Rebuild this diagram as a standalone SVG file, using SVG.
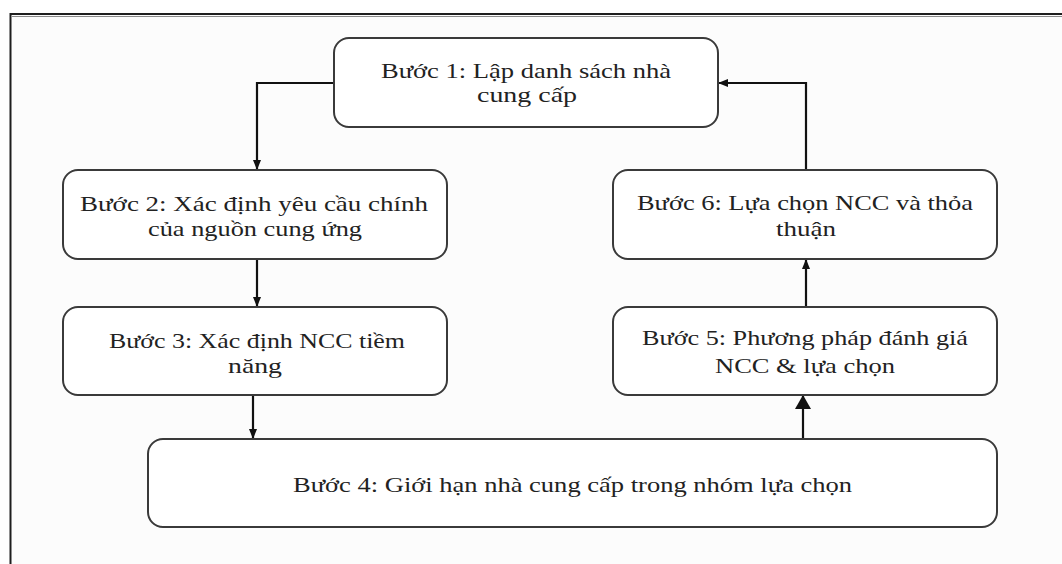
<svg xmlns="http://www.w3.org/2000/svg" width="1062" height="564" viewBox="0 0 1062 564">
  <style>
    .node rect { fill: #ffffff; stroke: #3a3a3a; stroke-width: 2; }
    .node text { font-family: 'Liberation Serif', 'DejaVu Serif', 'Times New Roman', serif; font-size: 22px; fill: #222222; text-anchor: middle; }
    .link { fill: none; stroke: #111111; stroke-width: 2.2; }
  </style>
  <defs>
    <marker id="arrow" viewBox="0 0 10 8" refX="10" refY="4" markerWidth="10" markerHeight="8" markerUnits="userSpaceOnUse" orient="auto">
      <path d="M0,0 L10,4 L0,8 z" fill="#111111"/>
    </marker>
    <marker id="arrowBig" viewBox="0 0 14 16" refX="14" refY="8" markerWidth="14" markerHeight="16" markerUnits="userSpaceOnUse" orient="auto">
      <path d="M0,0 L14,8 L0,16 z" fill="#111111"/>
    </marker>
  </defs>

  <!-- page background and frame -->
  <rect x="0" y="0" width="1062" height="564" fill="#ffffff"/>
  <rect x="11" y="15" width="1051" height="549" fill="#fcfcfc"/>
  <path d="M10.5,564 V14 H1062" fill="none" stroke="#1e1e1e" stroke-width="2"/>
  <line x1="12" y1="16.5" x2="1062" y2="16.5" stroke="#8a8a8a" stroke-width="1"/>

  <!-- connectors -->
  <g id="connectors">
    <path class="link" d="M334,83 H257 V170" marker-end="url(#arrow)"/>
    <path class="link" d="M257,259 V307" marker-end="url(#arrow)"/>
    <path class="link" d="M253,395 V439" marker-end="url(#arrow)"/>
    <path class="link" d="M803,439 V395" marker-end="url(#arrowBig)"/>
    <path class="link" d="M806,307 V259" marker-end="url(#arrow)"/>
    <path class="link" d="M806,170 V83 H718" marker-end="url(#arrow)"/>
  </g>

  <!-- steps -->
  <g id="step1" class="node">
    <rect x="334" y="38" width="384" height="89" rx="15" ry="15"/>
    <text x="526" y="78" textLength="290" lengthAdjust="spacingAndGlyphs">Bước 1: Lập danh sách nhà</text>
    <text x="527" y="102" textLength="100" lengthAdjust="spacingAndGlyphs">cung cấp</text>
  </g>

  <g id="step2" class="node">
    <rect x="63" y="170" width="384" height="89" rx="15" ry="15"/>
    <text x="254" y="211" textLength="348" lengthAdjust="spacingAndGlyphs">Bước 2: Xác định yêu cầu chính</text>
    <text x="255" y="236" textLength="214" lengthAdjust="spacingAndGlyphs">của nguồn cung ứng</text>
  </g>

  <g id="step3" class="node">
    <rect x="63" y="307" width="384" height="88" rx="15" ry="15"/>
    <text x="257" y="348" textLength="296" lengthAdjust="spacingAndGlyphs">Bước 3: Xác định NCC tiềm</text>
    <text x="255" y="373" textLength="54" lengthAdjust="spacingAndGlyphs">năng</text>
  </g>

  <g id="step4" class="node">
    <rect x="148" y="439" width="849" height="88" rx="15" ry="15"/>
    <text x="572.5" y="492" textLength="559" lengthAdjust="spacingAndGlyphs">Bước 4: Giới hạn nhà cung cấp trong nhóm lựa chọn</text>
  </g>

  <g id="step5" class="node">
    <rect x="613" y="307" width="384" height="88" rx="15" ry="15"/>
    <text x="805" y="345" textLength="326" lengthAdjust="spacingAndGlyphs">Bước 5: Phương pháp đánh giá</text>
    <text x="805" y="373" textLength="180" lengthAdjust="spacingAndGlyphs">NCC &amp; lựa chọn</text>
  </g>

  <g id="step6" class="node">
    <rect x="613" y="170" width="384" height="89" rx="15" ry="15"/>
    <text x="805" y="210" textLength="336" lengthAdjust="spacingAndGlyphs">Bước 6: Lựa chọn NCC và thỏa</text>
    <text x="806" y="236" textLength="60" lengthAdjust="spacingAndGlyphs">thuận</text>
  </g>
</svg>
